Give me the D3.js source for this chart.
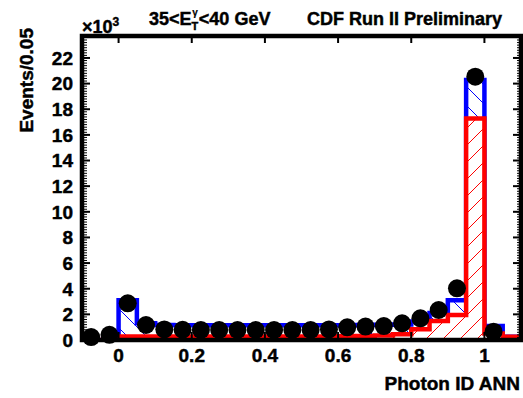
<!DOCTYPE html>
<html>
<head>
<meta charset="utf-8">
<script src="https://cdn.jsdelivr.net/npm/d3@7"></script>
<style>
  body { margin: 0; background: #fff; }
  text { font-family: "Liberation Sans", Arial, Helvetica, sans-serif; font-weight: bold; fill: #000;
         stroke: #000; stroke-width: 0.45px; }
</style>
</head>
<body>
<div id="chart"></div>
<script>
var width = 523;
var height = 398;

// lower bin edges, bin width 0.05
var binLow = [-0.10, -0.05, 0.00, 0.05, 0.10, 0.15, 0.20, 0.25, 0.30, 0.35, 0.40, 0.45,
              0.50, 0.55, 0.60, 0.65, 0.70, 0.75, 0.80, 0.85, 0.90, 0.95, 1.00, 1.05];
var binWidth = 0.05;

// total MC (blue), x10^3 events
var totalMC = [0.0, 0.0, 3.1, 1.3, 1.17, 1.15, 1.15, 1.15, 1.15, 1.15, 1.15, 1.15,
               1.15, 1.15, 1.15, 1.17, 1.18, 1.2, 1.44, 2.1, 3.1, 20.28, 1.1, 0.25];
// signal MC (red), x10^3 events
var signalMC = [0.0, 0.0, 0.28, 0.28, 0.28, 0.28, 0.28, 0.28, 0.28, 0.28, 0.28, 0.28,
                0.28, 0.28, 0.3, 0.32, 0.35, 0.45, 0.83, 1.48, 1.95, 17.28, 0.5, 0.25];

// data points (bin centres)
var dataX = [-0.075, -0.025, 0.025, 0.075, 0.125, 0.175, 0.225, 0.275, 0.325, 0.375, 0.425, 0.475,
             0.525, 0.575, 0.625, 0.675, 0.725, 0.775, 0.825, 0.875, 0.925, 0.975, 1.025];
var dataY = [0.23, 0.4, 2.86, 1.17, 0.82, 0.8, 0.78, 0.78, 0.78, 0.78, 0.78, 0.78,
             0.78, 0.82, 0.99, 1.05, 1.09, 1.3, 1.69, 2.34, 4.03, 20.54, 0.65];

var xTicks = [0, 0.2, 0.4, 0.6, 0.8, 1];
var xTickLabels = ["0", "0.2", "0.4", "0.6", "0.8", "1"];
var yTicks = [0, 2, 4, 6, 8, 10, 12, 14, 16, 18, 20, 22];

var frameL = 82, frameR = 521, frameT = 36, frameB = 340;

var xScale = d3.scaleLinear().domain([-0.1, 1.1]).range([frameL, frameR]);
var yScale = d3.scaleLinear().domain([0, 22]).range([frameB, frameB - 22 * 12.82]);

var svg = d3.select("#chart")
    .append("svg")
    .attr("width", width)
    .attr("height", height);

var defs = svg.append("defs");

// hatch patterns
var blueHatch = defs.append("pattern")
    .attr("id", "blueHatch")
    .attr("patternUnits", "userSpaceOnUse")
    .attr("width", 19).attr("height", 19);
blueHatch.append("path")
    .attr("d", "M0,0 L19,19 M-2,17 L2,21 M17,-2 L21,2")
    .attr("stroke", "#0000ff").attr("stroke-width", 1);

var redHatch = defs.append("pattern")
    .attr("id", "redHatch")
    .attr("patternUnits", "userSpaceOnUse")
    .attr("width", 17).attr("height", 17);
redHatch.append("path")
    .attr("d", "M0,17 L17,0 M-2,2 L2,-2 M15,19 L19,15")
    .attr("stroke", "#ff0000").attr("stroke-width", 1);

defs.append("clipPath").attr("id", "frameClip")
    .append("rect")
    .attr("x", frameL).attr("y", frameT)
    .attr("width", frameR - frameL).attr("height", frameB - frameT);

function stepPath(vals) {
    var p = d3.path();
    p.moveTo(xScale(binLow[0]), yScale(0));
    vals.forEach(function(v, i) {
        p.lineTo(xScale(binLow[i]), yScale(v));
        p.lineTo(xScale(binLow[i] + binWidth), yScale(v));
    });
    p.lineTo(xScale(binLow[binLow.length - 1] + binWidth), yScale(0));
    return p.toString();
}

var plot = svg.append("g").attr("clip-path", "url(#frameClip)");

// blue total
plot.append("path")
    .attr("d", stepPath(totalMC))
    .attr("fill", "url(#blueHatch)")
    .attr("stroke", "#0000ff")
    .attr("stroke-width", 4.5)
    .attr("stroke-linejoin", "miter");

// red signal: white underneath, then hatch
plot.append("path")
    .attr("d", stepPath(signalMC))
    .attr("fill", "#fff");
plot.append("path")
    .attr("d", stepPath(signalMC))
    .attr("fill", "url(#redHatch)")
    .attr("stroke", "#ff0000")
    .attr("stroke-width", 4.5)
    .attr("stroke-linejoin", "miter");

// frame
svg.append("rect")
    .attr("x", frameL).attr("y", frameT)
    .attr("width", frameR - frameL).attr("height", frameB - frameT)
    .attr("fill", "none")
    .attr("stroke", "#000")
    .attr("stroke-width", 4.5);

// y ticks (major + minor), both sides
var yMinor = d3.range(0, 23.6, 0.2);
svg.selectAll(".yminL").data(yMinor).enter().append("line")
    .attr("x1", frameL).attr("x2", frameL + 5)
    .attr("y1", function(d) { return yScale(d); })
    .attr("y2", function(d) { return yScale(d); })
    .attr("stroke", "#000").attr("stroke-width", 1);
svg.selectAll(".yminR").data(yMinor).enter().append("line")
    .attr("x1", frameR).attr("x2", frameR - 4)
    .attr("y1", function(d) { return yScale(d); })
    .attr("y2", function(d) { return yScale(d); })
    .attr("stroke", "#000").attr("stroke-width", 1);
svg.selectAll(".ymajL").data(yTicks).enter().append("line")
    .attr("x1", frameL).attr("x2", frameL + 8)
    .attr("y1", function(d) { return yScale(d); })
    .attr("y2", function(d) { return yScale(d); })
    .attr("stroke", "#000").attr("stroke-width", 2);
svg.selectAll(".ymajR").data(yTicks).enter().append("line")
    .attr("x1", frameR).attr("x2", frameR - 8)
    .attr("y1", function(d) { return yScale(d); })
    .attr("y2", function(d) { return yScale(d); })
    .attr("stroke", "#000").attr("stroke-width", 2);

// x ticks top + bottom
svg.selectAll(".xmajB").data(xTicks).enter().append("line")
    .attr("x1", function(d) { return xScale(d); })
    .attr("x2", function(d) { return xScale(d); })
    .attr("y1", frameB).attr("y2", frameB - 8)
    .attr("stroke", "#000").attr("stroke-width", 2);
svg.selectAll(".xmajT").data(xTicks).enter().append("line")
    .attr("x1", function(d) { return xScale(d); })
    .attr("x2", function(d) { return xScale(d); })
    .attr("y1", frameT).attr("y2", frameT + 7)
    .attr("stroke", "#000").attr("stroke-width", 2);

// data points
svg.selectAll("circle")
    .data(dataX)
    .enter()
    .append("circle")
    .attr("cx", function(d) { return xScale(d); })
    .attr("cy", function(d, i) { return yScale(dataY[i]); })
    .attr("r", 9)
    .attr("fill", "#000");

// tick labels
svg.selectAll(".ylab").data(yTicks).enter().append("text")
    .attr("x", 73)
    .attr("y", function(d) { return yScale(d); })
    .attr("dy", "0.36em")
    .attr("text-anchor", "end")
    .style("font-size", "19px")
    .text(function(d) { return d; });

svg.selectAll(".xlab").data(xTicks).enter().append("text")
    .attr("x", function(d) { return xScale(d); })
    .attr("y", 362)
    .attr("text-anchor", "middle")
    .style("font-size", "19px")
    .text(function(d, i) { return xTickLabels[i]; });

// axis titles
svg.append("text")
    .attr("x", 520).attr("y", 390)
    .attr("text-anchor", "end")
    .style("font-size", "19px")
    .text("Photon ID ANN");

svg.append("text")
    .attr("transform", "translate(33,28) rotate(-90)")
    .attr("text-anchor", "end")
    .style("font-size", "19px")
    .text("Events/0.05");

// x10^3
var mult = svg.append("text")
    .attr("x", 82).attr("y", 33)
    .style("font-size", "18px");
mult.append("tspan").text("\u00d710");
mult.append("tspan").attr("dy", -7).style("font-size", "12px").text("3");

// title
var title = svg.append("text")
    .attr("x", 149).attr("y", 25)
    .style("font-size", "18px");
title.append("tspan").text("35<E");
title.append("tspan").attr("dy", 5).style("font-size", "11px").text("T");
title.append("tspan").attr("dx", -6).attr("dy", -14).style("font-size", "10px").style("stroke-width", "0.2px").text("\u03b3");
title.append("tspan").attr("dx", 1).attr("dy", 9).style("font-size", "18px").text("<40 GeV");

svg.append("text")
    .attr("x", 307).attr("y", 25)
    .style("font-size", "18px")
    .text("CDF Run II Preliminary");
</script>
</body>
</html>
